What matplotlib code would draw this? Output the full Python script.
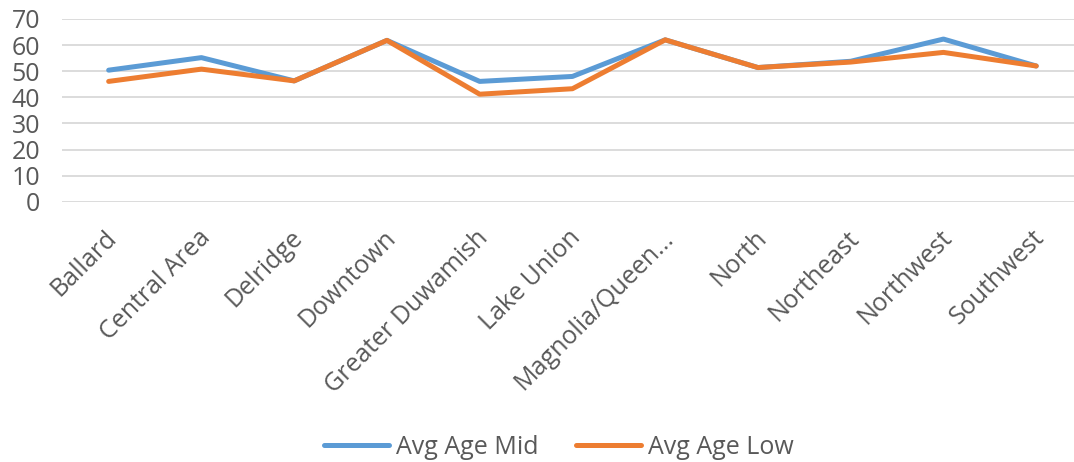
import matplotlib
matplotlib.use("Agg")
import matplotlib.pyplot as plt
from matplotlib.transforms import ScaledTranslation

plt.rcParams['font.family'] = ['Open Sans', 'DejaVu Sans']

neighborhoods = ["Ballard", "Central Area", "Delridge", "Downtown", "Greater Duwamish",
                 "Lake Union", "Magnolia/Queen...", "North", "Northeast", "Northwest",
                 "Southwest"]
avg_age_mid = [50.4, 55.2, 46.3, 61.8, 46.1, 48.0, 62.0, 51.4, 53.8, 62.3, 52.0]
avg_age_low = [46.1, 50.8, 46.3, 61.8, 41.2, 43.3, 62.0, 51.4, 53.5, 57.2, 52.0]

BLUE = "#5b9bd5"
ORANGE = "#ed7d31"
TEXT = "#595959"

fig = plt.figure(figsize=(10.74, 4.62), dpi=100)
# plot area runs a little past the right edge, as in the cropped original
ax = fig.add_axes([0.058, 0.563, 0.95, 0.396])

x = range(len(neighborhoods))
ax.plot(x, avg_age_mid, color=BLUE, lw=3.6, label="Avg Age Mid", solid_capstyle='round')
ax.plot(x, avg_age_low, color=ORANGE, lw=3.6, label="Avg Age Low", solid_capstyle='round')

ax.set_xlim(-0.5, len(neighborhoods) - 0.5)
ax.set_ylim(0, 70)
ax.set_yticks(range(0, 71, 10))
ax.yaxis.grid(True, color="#d9d9d9", lw=1.3)
ax.set_axisbelow(True)
for s in ax.spines.values():
    s.set_visible(False)
ax.tick_params(length=0, labelsize=18, colors=TEXT)
ax.tick_params(axis='y', pad=16)
ax.set_xticks(list(x))
ax.set_xticklabels(neighborhoods, rotation=45, ha='right', rotation_mode='anchor')
ax.tick_params(axis='x', pad=17)
shift = ScaledTranslation(-4 / 100, 0, fig.dpi_scale_trans)
for lbl in ax.get_xticklabels():
    lbl.set_transform(lbl.get_transform() + shift)

fig.legend(loc='center', bbox_to_anchor=(0.52, 0.032), ncol=2, frameon=False,
           fontsize=18, labelcolor=TEXT, handlelength=2.6, columnspacing=1.5,
           handletextpad=0.28, borderpad=0)

fig.savefig("out.png", dpi=100)
